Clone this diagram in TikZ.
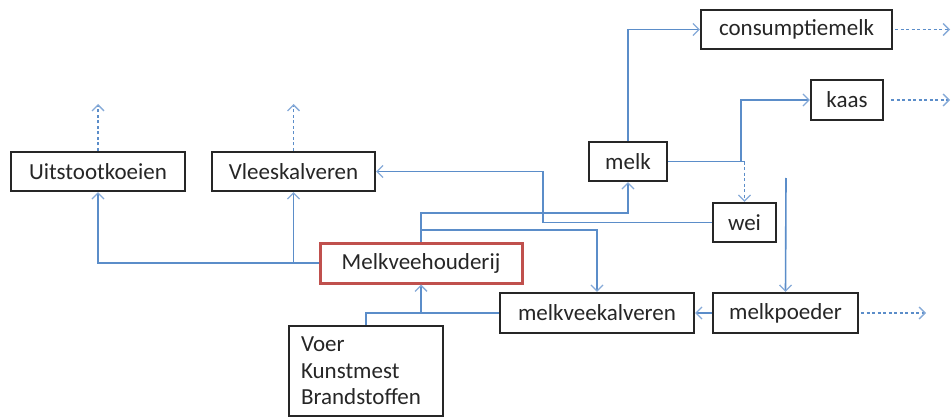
\documentclass[tikz,border=0pt]{standalone}
\usepackage{fontspec}
\setmainfont{Carlito}
\usetikzlibrary{arrows.meta}
\definecolor{lineblue}{HTML}{5B8DC9}
\definecolor{tipblue}{HTML}{86AAD8}
\definecolor{boxred}{HTML}{C0504D}
\definecolor{boxdark}{HTML}{262626}
\begin{document}
\begin{tikzpicture}[x=1pt,y=-1pt,
  box/.style={draw=boxdark,line width=2.2pt,fill=white,inner sep=0pt,
    font=\fontsize{23}{27}\selectfont,text=boxdark},
  redbox/.style={box,draw=boxred,line width=3pt},
  conn/.style={draw=lineblue,line width=1.6pt},
  tip/.style={-{Straight Barb[length=6pt,width=12pt,line width=1.3pt,color=tipblue]}},
  outflow/.style={conn,dash pattern=on 3pt off 2.5pt,tip}]
\useasboundingbox (0,0) rectangle (952,417);
% boxes
\node[box,minimum width=174pt,minimum height=39pt] (uit) at (98,171.5) {Uitstootkoeien};
\node[box,minimum width=163pt,minimum height=39pt] (vlees) at (293.5,171.5) {Vleeskalveren};
\node[redbox,minimum width=202pt,minimum height=40pt] (mvh) at (421,263) {Melkveehouderij};
\node[box,minimum width=154pt,minimum height=90pt,text width=130pt,align=left,
  font=\fontsize{23}{26.5}\selectfont] (voer) at (366,371) {Voer\\Kunstmest\\Brandstoffen};
\node[box,minimum width=194pt,minimum height=40pt] (mvk) at (597,313) {melkveekalveren};
\node[box,minimum width=145pt,minimum height=40pt] (poeder) at (785.5,313) {melkpoeder};
\node[box,minimum width=78pt,minimum height=39pt] (melk) at (628,161.5) {melk};
\node[box,minimum width=63pt,minimum height=39pt] (wei) at (744.5,222.5) {wei};
\node[box,minimum width=191pt,minimum height=39pt] (cons) at (796.5,29.5) {consumptiemelk};
\node[box,minimum width=72pt,minimum height=40pt] (kaas) at (847,100) {kaas};
% junctions and free ends
\coordinate (j1) at (421,213);
\coordinate (j2) at (421,230);
\coordinate (j3) at (543,222.5);
\coordinate (j4) at (741,161.5);
\coordinate (j5) at (744.5,161.5);
\coordinate (j6) at (786,178);
\coordinate (j7) at (421,313);
\coordinate (uitout) at (98,104);
\coordinate (vleesout) at (293.5,104);
\coordinate (consout) at (950,29.5);
\coordinate (kaasout) at (950,100);
\coordinate (poederout) at (926,313);
% connectors
\draw[conn,tip] (mvh.west) -| (uit.south);
\draw[conn,tip] (mvh.west) -| (vlees.south);
\draw[conn,tip] (mvh.north) -- (j1) -| (melk.south);
\draw[conn,tip] (j2) -| (mvk.north);
\draw[conn,tip] (wei.west) -- (j3) |- (vlees.east);
\draw[conn,tip] (melk.north) |- (cons.west);
\draw[conn,tip] (melk.east) -- (j4) |- (kaas.west);
\draw[conn] (j4) -- (j5);
\draw[outflow] (j5) -- (wei.north);
\draw[conn,tip] (j6) -- (poeder.north);
\draw[conn,tip] (poeder.west) -- (mvk.east);
\draw[conn,tip] (mvk.west) -| (mvh.south);
\draw[conn] (voer.north) |- (j7);
% outgoing dotted
\draw[outflow] (uit.north) -- (uitout);
\draw[outflow] (vlees.north) -- (vleesout);
\draw[outflow] ([xshift=2pt]cons.east) -- (consout);
\draw[outflow] ([xshift=7pt]kaas.east) -- (kaasout);
\draw[outflow] ([xshift=2pt]poeder.east) -- (poederout);
\end{tikzpicture}
\end{document}
